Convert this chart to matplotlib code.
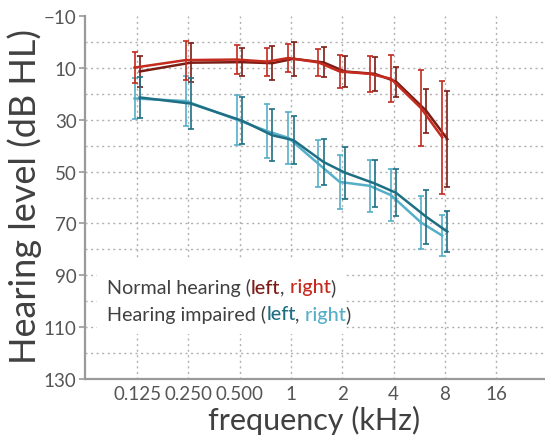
import matplotlib
matplotlib.use("Agg")
import matplotlib.pyplot as plt
import matplotlib.transforms as mtransforms
from matplotlib.patches import Rectangle
from matplotlib.ticker import FixedLocator, NullFormatter
import numpy as np

# ---------------- data ----------------
freq_nh = [0.125, 0.25, 0.5, 0.75, 1, 1.5, 2, 3, 4, 6, 8]
nh_left = [11.4, 8.0, 7.8, 8.2, 6.5, 7.9, 11.4, 12.3, 15.3, 26.5, 37.5]
nh_left_err = [6.0, 7.5, 5.3, 6.6, 6.6, 5.8, 5.8, 6.5, 5.8, 8.5, 18.5]
nh_right = [9.9, 7.0, 6.8, 7.6, 6.2, 7.9, 11.4, 12.3, 14.2, 25.5, 36.8]
nh_right_err = [6.0, 7.5, 5.5, 5.4, 5.4, 5.3, 6.4, 7.0, 9.0, 14.6, 21.7]

freq_hi = [0.125, 0.25, 0.5, 0.75, 1, 1.5, 2, 3, 4, 6, 8]
hi_left = [21.4, 23.8, 30.4, 36.0, 37.9, 46.3, 50.4, 54.6, 58.2, 67.4, 73.2]
hi_left_err = [8.0, 9.7, 9.0, 10.0, 9.2, 9.0, 10.0, 9.0, 9.0, 10.4, 8.0]
hi_right = [21.8, 22.8, 30.0, 34.4, 37.0, 47.0, 54.0, 55.5, 59.1, 69.6, 74.7]
hi_right_err = [8.0, 9.6, 9.7, 10.5, 10.0, 9.0, 10.4, 10.0, 10.0, 10.2, 8.0]

xtick_vals = [0.125, 0.25, 0.5, 1, 2, 4, 8, 16]
xtick_labels = ["0.125", "0.250", "0.500", "1", "2", "4", "8", "16"]
ytick_major = [-10, 10, 30, 50, 70, 90, 110, 130]
ygrid_vals = [0, 10, 20, 30, 40, 50, 60, 70, 80, 90, 100, 110, 120]

# ---------------- style ----------------
FONT = ["Lato", "DejaVu Sans"]
plt.rcParams["font.family"] = FONT

c_nh_left = "#7b1c15"
c_nh_right = "#c42a1e"
c_hi_left = "#1f6f84"
c_hi_right = "#55afc8"
c_text = "#404040"
c_tick = "#555555"
c_spine = "#9a9a9a"
c_grid = "#b0b0b0"

W, H = 545, 439
fig = plt.figure(figsize=(W / 100, H / 100), dpi=100)
ax = fig.add_axes([85 / W, 1 - 380 / H, 1 - 85 / W, (380 - 17) / H])

ax.set_xscale("log", base=2)
ax.set_xlim(0.0618, 31.0)
ax.set_ylim(130, -10)

off = 2 ** 0.05

def series(freqs, vals, errs, color, shift, z):
    xs = [f * shift for f in freqs]
    ax.errorbar(xs, vals, yerr=errs, color=color, lw=1.8, elinewidth=1.2,
                capsize=2.5, capthick=1.2, zorder=z)

series(freq_nh, nh_left, nh_left_err, c_nh_left, off, 5)
series(freq_nh, nh_right, nh_right_err, c_nh_right, 1 / off, 6)
series(freq_hi, hi_right, hi_right_err, c_hi_right, 1 / off, 5)
series(freq_hi, hi_left, hi_left_err, c_hi_left, off, 6)

# grid (drawn explicitly so that the -10 top row has no line)
for g in ygrid_vals:
    ax.axhline(g, ls=(0, (1.5, 2.5)), color=c_grid, lw=1.0, zorder=1)
for v in xtick_vals:
    ax.axvline(v, ls=(0, (1.5, 2.5)), color=c_grid, lw=1.0, zorder=1)

# ticks
ax.xaxis.set_major_locator(FixedLocator(xtick_vals))
ax.set_xticklabels(xtick_labels)
ax.xaxis.set_minor_locator(FixedLocator([]))
ax.xaxis.set_minor_formatter(NullFormatter())
ax.yaxis.set_major_locator(FixedLocator(ytick_major))
ax.set_yticklabels([f"{v}".replace("-", "\u2212") for v in ytick_major])
ax.tick_params(axis="x", length=0, pad=4, labelsize=13.5, labelcolor=c_tick)
ax.tick_params(axis="y", which="major", length=4, width=1.2, color=c_spine,
               pad=2, labelsize=13.5, labelcolor=c_tick)

for s in ["top", "right"]:
    ax.spines[s].set_visible(False)
for s in ["left", "bottom"]:
    ax.spines[s].set_color(c_spine)
    ax.spines[s].set_linewidth(1.6)

# white box behind legend text
ax.add_patch(Rectangle((12 / 460, (380 - 335) / 363), (345 - 97) / 460, 75 / 363,
                       transform=ax.transAxes, facecolor="white", edgecolor="none",
                       zorder=2))

# axis labels
fig.text(25 / W, 1 - 197 / H, "Hearing level (dB HL)", rotation=90, ha="center",
         va="center", fontsize=26, color=c_text)
fig.text(314 / W, 1 - 420 / H, "frequency (kHz)", ha="center", va="center",
         fontsize=22, color=c_text)

# multi-colored legend text
fig.canvas.draw()
renderer = fig.canvas.get_renderer()

def rainbow(x, y, parts, size=14.2):
    t = ax.transAxes
    for s, c, w in parts:
        txt = ax.text(x, y, s, color=c, transform=t, fontsize=size, va="center",
                      ha="left", zorder=10, fontweight=w)
        txt.draw(renderer)
        ex = txt.get_window_extent(renderer)
        t = mtransforms.offset_copy(txt.get_transform(), x=ex.width, units="dots")

rainbow(22 / 460, (380 - 288) / 363,
        [("Normal hearing (", c_text, "normal"), ("left", c_nh_left, "medium"),
         (",", c_text, "normal"), (" right", c_nh_right, "medium"),
         (")", c_text, "normal")])
rainbow(22 / 460, (380 - 315) / 363,
        [("Hearing impaired (", c_text, "normal"), ("left", c_hi_left, "medium"),
         (",", c_text, "normal"), (" right", c_hi_right, "medium"),
         (")", c_text, "normal")])

fig.savefig("out.png", dpi=100)
